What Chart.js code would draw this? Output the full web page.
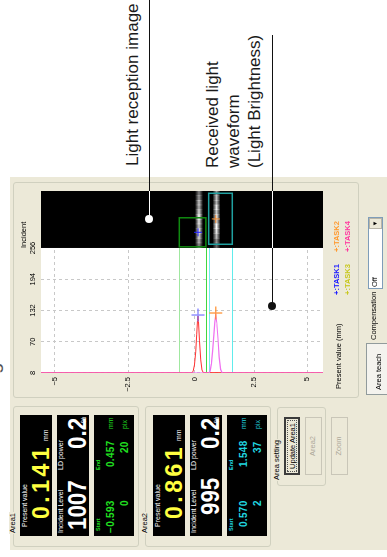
<!DOCTYPE html>
<html>
<head>
<meta charset="utf-8">
<script src="https://cdn.jsdelivr.net/npm/chart.js@4"></script>
<style>
html, body { margin: 0; padding: 0; background: #fff; width: 387px; height: 557px; overflow: hidden; }
/* the whole screen is laid out unrotated (557 x 387) and turned a quarter left */
#stage {
  position: absolute; left: 0; top: 0; width: 557px; height: 387px; overflow: hidden;
  background: #fff; transform-origin: 0 0; transform: translateY(557px) rotate(-90deg);
  font-family: "Liberation Sans", Arial, sans-serif; color: #000;
}
.a { position: absolute; white-space: nowrap; }
.panel { background: #ece9d8; }
.grp { position: absolute; border: 1px solid #d0d0bf; border-radius: 3px; box-sizing: border-box; }
.glab { position: absolute; font-size: 7.5px; line-height: 8px; background: #ece9d8; padding: 0 1px; }
.blk { position: absolute; background: #000; }
.sm { font-size: 7px; line-height: 8px; color: #fff; }
.big { font-weight: bold; font-size: 23px; line-height: 23px; letter-spacing: 3.5px; }
.lvl { font-weight: bold; font-size: 26px; line-height: 26px; color: #fff; transform-origin: 0 0; transform: scaleX(0.86); }
.mid { font-weight: bold; font-size: 10px; line-height: 10px; letter-spacing: 0.3px; }
.tiny { font-weight: bold; font-size: 5.5px; line-height: 6px; }
.btn { position: absolute; box-sizing: border-box; font-size: 7.5px; line-height: 14px; text-align: center; }
.ann { font-size: 17px; line-height: 21px; color: #1a1a1a; }
.ln { position: absolute; height: 1px; }
.dot { position: absolute; width: 8px; height: 8px; border-radius: 50%; box-sizing: border-box; }
</style>
</head>
<body>
<div id="stage">
  <!-- cut-off caption at the page edge -->
  <div class="a" style="left:2px;top:-18px;font-size:20px;line-height:20px;color:#555">Screen of received light waveform</div>

  <!-- callout texts -->
  <div class="a ann" style="left:391px;top:122px">Light reception image</div>
  <div class="a ann" style="left:389px;top:202px">Received light<br>waveform<br>(Light Brightness)</div>

  <!-- window body -->
  <div class="a panel" style="left:7px;top:10px;width:373px;height:377px"></div>

  <!-- waveform group -->
  <div class="grp" style="left:159px;top:13px;width:216px;height:346px"></div>
  <canvas id="wave" class="a" width="216" height="346" style="left:159px;top:13px"></canvas>
  <div class="a" style="left:309px;top:20px;font-size:7.5px;line-height:8px">Incident</div>
  <div class="a" style="left:168px;top:335px;font-size:7.5px;line-height:8px">Present value (mm)</div>
  <div class="a" style="left:262px;top:333px;font-size:7.5px;line-height:8px;font-weight:bold;color:#2020ff">+:TASK1</div>
  <div class="a" style="left:305px;top:333px;font-size:7.5px;line-height:8px;font-weight:bold;color:#ff9a30">+:TASK2</div>
  <div class="a" style="left:262px;top:344px;font-size:7.5px;line-height:8px;font-weight:bold;color:#c8c820">+:TASK3</div>
  <div class="a" style="left:305px;top:344px;font-size:7.5px;line-height:8px;font-weight:bold;color:#ff3aa0">+:TASK4</div>

  <!-- compensation -->
  <div class="a" style="left:217px;top:370px;font-size:7.5px;line-height:8px">Compensation</div>
  <div class="a" style="left:268px;top:368px;width:72px;height:15px;box-sizing:border-box;border:1px solid #7f9db9;background:#fff"></div>
  <div class="a" style="left:270px;top:371px;font-size:7.5px;line-height:8px">Off</div>
  <div class="a" style="left:328px;top:369px;width:11px;height:13px;box-sizing:border-box;border:1px solid #b8b5a8;background:#ece9d8;font-size:6px;line-height:11px;text-align:center">&#9660;</div>
  <div class="a" style="left:162px;top:366px;width:52px;height:30px;box-sizing:border-box;border:1px solid #919b9c;background:#f4f3ee"></div>
  <div class="a" style="left:167px;top:375px;font-size:7.5px;line-height:8px">Area teach</div>

  <!-- Area1 -->
  <div class="grp" style="left:10px;top:13px;width:141px;height:126px"></div>
  <div class="glab" style="left:23px;top:9px">Area1</div>
  <div class="blk" style="left:21px;top:20px;width:121px;height:32px"></div>
  <div class="blk" style="left:21px;top:57px;width:121px;height:32px"></div>
  <div class="blk" style="left:21px;top:94px;width:121px;height:40px"></div>
  <div class="a sm" style="left:30px;top:21px">Present value</div>
  <div class="a big" style="left:38px;top:30px;color:#ffff40">0.141</div>
  <div class="a sm" style="left:116px;top:42px">mm</div>
  <div class="a sm" style="left:24px;top:57px">Incident Level</div>
  <div class="a sm" style="left:87px;top:57px">LD power</div>
  <div class="a lvl" style="left:27px;top:64px">1007</div>
  <div class="a lvl" style="left:108px;top:64px">0.2</div>
  <div class="a sm" style="left:134px;top:80px">%</div>
  <div class="a tiny" style="left:26px;top:95px;color:#20e020">Start</div>
  <div class="a tiny" style="left:87px;top:95px;color:#20e020">End</div>
  <div class="a mid" style="left:24px;top:106px;color:#20e020">&minus;0.593</div>
  <div class="a mid" style="left:90px;top:106px;color:#20e020">0.457</div>
  <div class="a sm" style="left:128px;top:107px;color:#20e020">mm</div>
  <div class="a mid" style="left:51px;top:120px;color:#20e020">0</div>
  <div class="a mid" style="left:104px;top:120px;color:#20e020">20</div>
  <div class="a sm" style="left:128px;top:121px;color:#20e020">pix</div>

  <!-- Area2 -->
  <div class="grp" style="left:10px;top:145px;width:141px;height:126px"></div>
  <div class="glab" style="left:23px;top:141px">Area2</div>
  <div class="blk" style="left:21px;top:153px;width:121px;height:32px"></div>
  <div class="blk" style="left:21px;top:190px;width:121px;height:32px"></div>
  <div class="blk" style="left:21px;top:227px;width:121px;height:40px"></div>
  <div class="a sm" style="left:30px;top:154px">Present value</div>
  <div class="a big" style="left:38px;top:163px;color:#ffff40">0.861</div>
  <div class="a sm" style="left:116px;top:175px">mm</div>
  <div class="a sm" style="left:24px;top:190px">Incident Level</div>
  <div class="a sm" style="left:87px;top:190px">LD power</div>
  <div class="a lvl" style="left:42px;top:197px">995</div>
  <div class="a lvl" style="left:108px;top:197px">0.2</div>
  <div class="a sm" style="left:134px;top:213px">%</div>
  <div class="a tiny" style="left:26px;top:228px;color:#20d8e0">Start</div>
  <div class="a tiny" style="left:87px;top:228px;color:#20d8e0">End</div>
  <div class="a mid" style="left:30px;top:239px;color:#20d8e0">0.570</div>
  <div class="a mid" style="left:90px;top:239px;color:#20d8e0">1.548</div>
  <div class="a sm" style="left:128px;top:240px;color:#20d8e0">mm</div>
  <div class="a mid" style="left:51px;top:253px;color:#20d8e0">2</div>
  <div class="a mid" style="left:104px;top:253px;color:#20d8e0">37</div>
  <div class="a sm" style="left:128px;top:254px;color:#20d8e0">pix</div>

  <!-- Area setting -->
  <div class="grp" style="left:71px;top:277px;width:79px;height:49px"></div>
  <div class="glab" style="left:76px;top:273px">Area setting</div>
  <div class="btn" style="left:82px;top:284px;width:58px;height:16px;border:2px solid #3c3c3c;background:#ece9d8">
    <div style="position:absolute;left:1px;top:1px;right:1px;bottom:1px;border:1px dotted #555"></div>Update Area1</div>
  <div class="btn" style="left:82px;top:305px;width:58px;height:17px;border:1px solid #c9c6b8;color:#aca899">Area2</div>
  <div class="btn" style="left:82px;top:331px;width:58px;height:17px;border:1px solid #c9c6b8;color:#aca899">Zoom</div>

  <!-- callout lines and dots -->
  <div class="ln" style="left:366px;top:149px;width:191px;background:#111"></div>
  <div class="ln" style="left:338px;top:149px;width:28px;background:#fff"></div>
  <div class="dot" style="left:334px;top:145px;background:#fff"></div>
  <div class="ln" style="left:251px;top:272px;width:58px;background:#111"></div>
  <div class="ln" style="left:309px;top:272px;width:57px;background:#fff"></div>
  <div class="ln" style="left:366px;top:272px;width:156px;background:#111"></div>
  <div class="dot" style="left:247px;top:268px;background:#111"></div>
</div>

<script>
// axis ticks
const levelTicks = [8, 70, 132, 194, 256];
const mmTicks = [-5, -2.5, 0, 2.5, 5];
const mmTickLabels = ['\u22125', '\u22122.5', '0', '2.5', '5'];

// received light waveforms: position (mm) and level
const wave1Mm = [-5.45, -0.10, -0.05, 0.00, 0.05, 0.09, 0.12, 0.141, 0.16, 0.20, 0.25, 0.30, 0.36, 5.8];
const wave1Level = [8, 8, 12, 24, 50, 85, 112, 121, 110, 72, 34, 14, 8, 8];
const wave2Mm = [-5.45, 0.58, 0.63, 0.68, 0.73, 0.78, 0.82, 0.861, 0.90, 0.95, 1.00, 1.06, 1.12, 5.8];
const wave2Level = [8, 8, 12, 26, 52, 84, 110, 123, 108, 76, 40, 15, 8, 8];

// measured peaks (present value) and cross height
const peakMm = [0.141, 0.861];
const peakLevel = [123, 127];

// area settings (start / end, mm)
const area1Mm = [-0.593, 0.457];
const area2Mm = [0.570, 1.548];

// light reception image: rows as fraction of the image (0 = level 256 edge)
const spotRow = [0.275, 0.51];
const area1Rows = [0.02, 0.53];
const area2Rows = [0.065, 0.96];
const streakMm = [0.18, 0.89];
const streak1Glow = [0.55, 0.7, 0.85, 0.95, 0.8, 0.9, 1, 0.85, 0.7, 0.75, 0.6, 0.5];
const streak2Glow = [0.4, 0.55, 0.75, 0.9, 1, 0.85, 0.95, 0.8, 0.9, 0.7, 0.75, 0.6];

// non-linear position axis (triangulation): pixel offset as a function of mm
const warp = m => 25.2 * m - 0.532 * m * m;
class WarpScale extends Chart.LinearScale {
  getPixelForValue(value) {
    const a = warp(this.min), b = warp(this.max);
    return this.getPixelForDecimal((warp(value) - a) / (b - a));
  }
  getValueForPixel(pixel) {
    const a = warp(this.min), b = warp(this.max);
    const t = a + this.getDecimalForPixel(pixel) * (b - a);
    return (25.2 - Math.sqrt(25.2 * 25.2 - 4 * 0.532 * t)) / (2 * 0.532);
  }
}
WarpScale.id = 'warp';
WarpScale.defaults = Chart.LinearScale.defaults;
Chart.register(WarpScale);

const pts = (mm, lv) => mm.map((m, i) => ({ x: lv[i], y: m }));

function cross(ctx, cx, cy, r, color, w) {
  ctx.strokeStyle = color; ctx.lineWidth = w;
  ctx.beginPath();
  ctx.moveTo(cx - r, cy); ctx.lineTo(cx + r, cy);
  ctx.moveTo(cx, cy - r); ctx.lineTo(cx, cy + r);
  ctx.stroke();
}

const panelPlugin = {
  id: 'panel',
  beforeDraw(chart) {
    const { ctx, chartArea: a } = chart;
    ctx.save();
    ctx.fillStyle = '#fff';
    ctx.fillRect(a.left, a.top, a.right - a.left, a.bottom - a.top);
    ctx.restore();
  },
  beforeDatasetsDraw(chart) {
    const { ctx, chartArea: a, scales: { x, y } } = chart;
    const edge = x.getPixelForValue(256);
    const row = r => edge + r * (a.right - edge);
    ctx.save();
    // light reception image
    ctx.fillStyle = '#000';
    ctx.fillRect(edge, a.top, a.right - edge, a.bottom - a.top);
    [[streakMm[0], streak1Glow], [streakMm[1], streak2Glow]].forEach(([mm, glow]) => {
      const cy = y.getPixelForValue(mm);
      const seg = (a.right - edge) / glow.length;
      glow.forEach((g, i) => {
        const grad = ctx.createLinearGradient(0, cy - 4, 0, cy + 4);
        grad.addColorStop(0, 'rgba(255,255,255,0)');
        grad.addColorStop(0.5, 'rgba(255,255,255,' + g + ')');
        grad.addColorStop(1, 'rgba(255,255,255,0)');
        ctx.fillStyle = grad;
        ctx.fillRect(edge + i * seg, cy - 4, seg + 0.5, 8);
      });
    });
    // area frames in the image
    ctx.lineWidth = 1.5;
    ctx.strokeStyle = '#108a10';
    ctx.strokeRect(row(area1Rows[0]), y.getPixelForValue(area1Mm[0]), row(area1Rows[1]) - row(area1Rows[0]),
      y.getPixelForValue(area1Mm[1]) - y.getPixelForValue(area1Mm[0]));
    ctx.strokeStyle = '#20a0a0';
    ctx.strokeRect(row(area2Rows[0]), y.getPixelForValue(area2Mm[0]), row(area2Rows[1]) - row(area2Rows[0]),
      y.getPixelForValue(area2Mm[1]) - y.getPixelForValue(area2Mm[0]));
    // area limits over the waveform
    ctx.lineWidth = 1;
    [[area1Mm[0], '#a0e8a0'], [area1Mm[1], '#40d840'], [area2Mm[0], '#70eeee'], [area2Mm[1], '#60ecec']].forEach(([mm, c]) => {
      const py = Math.round(y.getPixelForValue(mm)) + 0.5;
      ctx.strokeStyle = c;
      ctx.beginPath(); ctx.moveTo(a.left, py); ctx.lineTo(edge, py); ctx.stroke();
    });
    ctx.restore();
  },
  afterDatasetsDraw(chart) {
    const { ctx, chartArea: a, scales: { x, y } } = chart;
    const edge = x.getPixelForValue(256);
    const row = r => edge + r * (a.right - edge);
    ctx.save();
    cross(ctx, row(spotRow[0]), y.getPixelForValue(peakMm[0]), 4, '#2020ff', 1);
    cross(ctx, row(spotRow[1]), y.getPixelForValue(peakMm[1]), 4, '#f08a30', 1);
    ctx.restore();
  }
};

const tickFont = { family: '"Liberation Sans", Arial, sans-serif', size: 7.5 };

new Chart(document.getElementById('wave'), {
  type: 'line',
  data: {
    datasets: [
      { data: [{ x: peakLevel[0], y: peakMm[0] }], showLine: false, pointStyle: 'cross', pointRadius: 6.5,
        pointBorderColor: 'rgba(110,110,255,0.75)', pointBorderWidth: 1.5 },
      { data: [{ x: peakLevel[1], y: peakMm[1] }], showLine: false, pointStyle: 'cross', pointRadius: 6.5,
        pointBorderColor: 'rgba(255,140,40,0.8)', pointBorderWidth: 1.5 },
      { data: pts(wave2Mm, wave2Level), borderColor: '#f070f0', borderWidth: 1.2, pointRadius: 0, tension: 0 },
      { data: pts(wave1Mm, wave1Level), borderColor: '#ff3030', borderWidth: 1, pointRadius: 0, tension: 0 }
    ]
  },
  options: {
    responsive: false,
    animation: false,
    events: [],
    layout: { padding: { left: 0, top: 0, right: 9, bottom: 36 } },
    plugins: { legend: { display: false }, tooltip: { enabled: false } },
    scales: {
      x: {
        type: 'linear', position: 'top', min: 8, max: 369,
        afterBuildTicks: s => { s.ticks = levelTicks.map(v => ({ value: v })); },
        afterFit: s => { s.height = 28; },
        grid: { color: '#c8c8c8', drawTicks: false },
        border: { display: false, dash: [3, 3] },
        ticks: { padding: 3.5, font: tickFont, color: '#000', maxRotation: 0, autoSkip: false, callback: v => String(v) }
      },
      y: {
        type: 'warp', position: 'left', reverse: true, min: -5.45, max: 5.8,
        afterBuildTicks: s => { s.ticks = mmTicks.map(v => ({ value: v })); },
        afterFit: s => { s.width = 25; },
        grid: { color: '#c8c8c8', drawTicks: false },
        border: { display: false, dash: [3, 3] },
        ticks: { padding: 4, font: tickFont, color: '#000', autoSkip: false,
          callback: (v, i) => mmTickLabels[mmTicks.indexOf(v)] }
      }
    }
  },
  plugins: [panelPlugin]
});
</script>
</body>
</html>
